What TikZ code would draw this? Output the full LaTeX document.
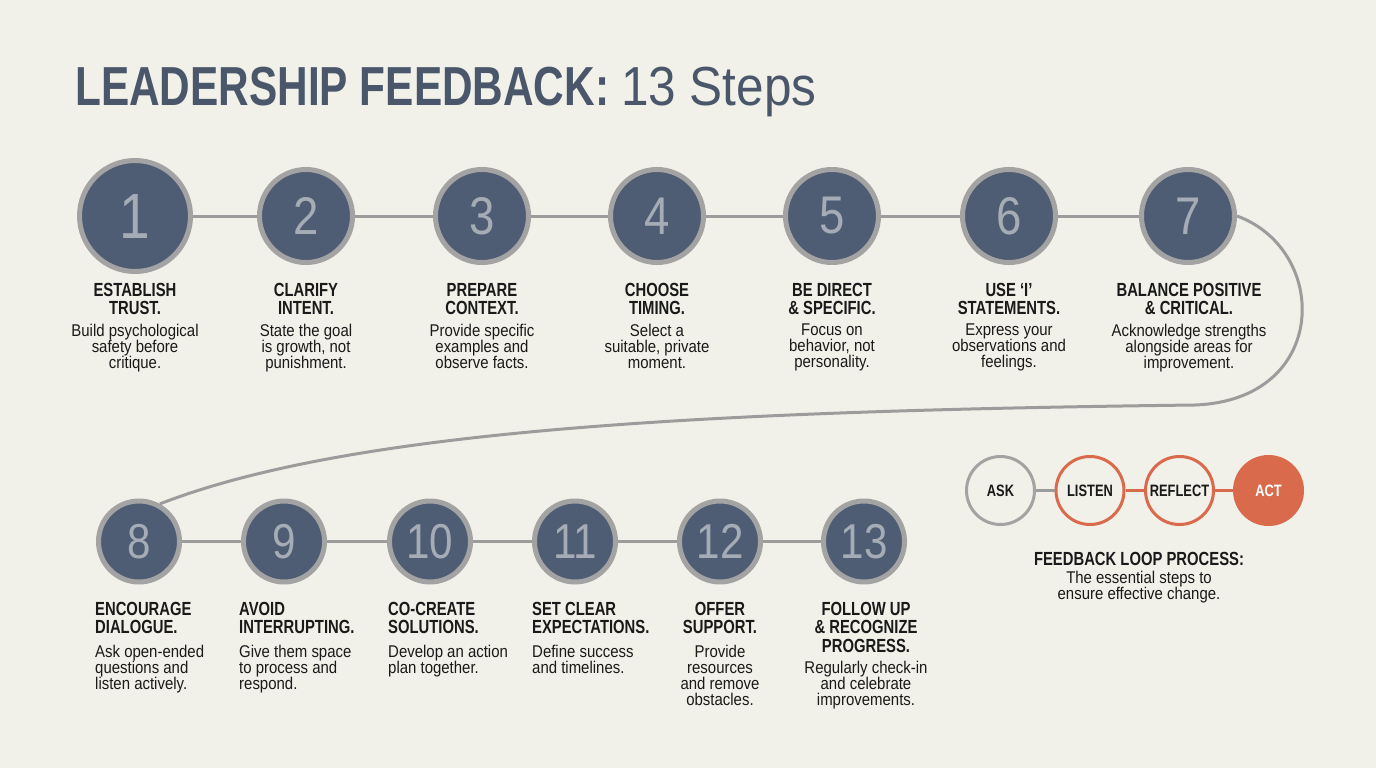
\documentclass[tikz,border=0pt]{standalone}
\usepackage{fontspec}
\setmainfont{Liberation Sans}[FakeStretch=0.88]
\newfontfamily\headfont{Liberation Sans}[FakeStretch=0.77]
\newfontfamily\labfont{Liberation Sans}[FakeStretch=0.78]
\newfontfamily\numfont{Liberation Sans}[FakeStretch=0.86]
\newfontfamily\stepsfont{Liberation Sans}[FakeStretch=0.9]

\definecolor{paper}{RGB}{241,240,233}
\definecolor{slate}{RGB}{78,93,116}
\definecolor{ringgray}{RGB}{163,163,163}
\definecolor{numgray}{RGB}{166,172,181}
\definecolor{linegray}{RGB}{156,156,156}
\definecolor{inkdark}{RGB}{26,26,26}
\definecolor{titleblue}{RGB}{74,87,107}
\definecolor{rust}{RGB}{217,106,76}

\tikzset{
  stepdot/.style={circle, draw=ringgray, line width=5pt, fill=slate,
    inner sep=0pt, text=numgray},
  steplabel/.style={inner sep=0pt, text=inkdark,
    font=\labfont\bfseries\fontsize{19}{18.5}\selectfont},
  stepdesc/.style={inner sep=0pt, text=inkdark,
    font=\fontsize{17}{16}\selectfont},
  link/.style={draw=linegray, line width=3pt},
  loopdot/.style={circle, line width=3pt, minimum size=68pt, inner sep=0pt,
    text=inkdark, font=\labfont\bfseries\fontsize{16.5}{16.5}\selectfont},
}

\begin{document}
\begin{tikzpicture}[x=1pt, y=-1pt]
  % page
  \fill[paper] (0,0) rectangle (1376,768);
  \useasboundingbox (0,0) rectangle (1376,768);

  % title
  \node[anchor=base west, inner sep=0pt, text=titleblue] (title) at (75,105)
    {\headfont\bfseries\fontsize{55}{55}\selectfont LEADERSHIP FEEDBACK: \stepsfont\mdseries 13 Steps};

  % top row of steps
  \foreach \n/\x/\d/\f in {1/135/111/64, 2/306/93/53, 3/482/93/53, 4/657/93/53,
                           5/832/93/53, 6/1009/93/53, 7/1188/93/53}
    \node[stepdot, minimum size=\d pt, font=\numfont\fontsize{\f}{\f}\selectfont] (s\n) at (\x,216) {\n};
  % bottom row of steps
  \foreach \n/\x in {8/139, 9/284, 10/430, 11/575, 12/720, 13/864}
    \node[stepdot, minimum size=81pt, font=\numfont\fontsize{49}{49}\selectfont] (s\n) at (\x,541.5) {\n};

  % straight links
  \foreach \a [count=\b from 2] in {1,...,6}
    \draw[link] (s\a) -- (s\b);
  \foreach \a [count=\b from 9] in {8,...,12}
    \draw[link] (s\a) -- (s\b);

  % the bend from 7 down to 8
  \coordinate (bend) at (1195,405);
  \draw[link] (s7.east) .. controls (1330,250) and (1330,400) .. (bend)
    .. controls (700,411) and (350,430) .. (s8.61);

  % top row texts
  \foreach \n/\x/\head/\desc in {
      1/135/{ESTABLISH\\TRUST.}/{Build psychological\\safety before\\critique.},
      2/306/{CLARIFY\\INTENT.}/{State the goal\\is growth, not\\punishment.},
      3/482/{PREPARE\\CONTEXT.}/{Provide specific\\examples and\\observe facts.},
      4/657/{CHOOSE\\TIMING.}/{Select a\\suitable, private\\moment.},
      5/832/{BE DIRECT\\\& SPECIFIC.}/{Focus on\\behavior, not\\personality.},
      6/1009/{USE ‘I’\\STATEMENTS.}/{Express your\\observations and\\feelings.},
      7/1189/{BALANCE POSITIVE\\\& CRITICAL.}/{Acknowledge strengths\\alongside areas for\\improvement.}} {
    \node[steplabel, align=center, anchor=north] (h\n) at (\x,283) {\head};
    \node[stepdesc, align=center, anchor=north] (d\n) at (\x,324) {\desc};
  }

  % bottom row texts
  \foreach \n/\x/\head/\desc in {
      8/95/{ENCOURAGE\\DIALOGUE.}/{Ask open-ended\\questions and\\listen actively.},
      9/239/{AVOID\\INTERRUPTING.}/{Give them space\\to process and\\respond.},
      10/388/{CO-CREATE\\SOLUTIONS.}/{Develop an action\\plan together.},
      11/532/{SET CLEAR\\EXPECTATIONS.}/{Define success\\and timelines.}} {
    \node[steplabel, align=left, anchor=north west] (h\n) at (\x,602) {\head};
    \node[stepdesc, align=left, anchor=north west] (d\n) at (\x,645) {\desc};
  }
  \node[steplabel, align=center, anchor=north] (h12) at (720,602) {OFFER\\SUPPORT.};
  \node[stepdesc, align=center, anchor=north] (d12) at (720,645)
    {Provide\\resources\\and remove\\obstacles.};
  \node[steplabel, align=center, anchor=north] (h13) at (866,602)
    {FOLLOW UP\\\& RECOGNIZE\\PROGRESS.};
  \node[stepdesc, align=center, anchor=north] (d13) at (866,661)
    {Regularly check-in\\and celebrate\\improvements.};

  % feedback loop
  \node[loopdot, draw=ringgray] (ask) at (1000.5,490.5) {ASK};
  \node[loopdot, draw=rust] (listen) at (1090,490.5) {LISTEN};
  \node[loopdot, draw=rust] (reflect) at (1179.5,490.5) {REFLECT};
  \node[loopdot, draw=rust, fill=rust, text=white] (act) at (1268.5,490.5) {ACT};
  \draw[link] (ask) -- (listen);
  \draw[link, draw=rust] (listen) -- (reflect);
  \draw[link, draw=rust] (reflect) -- (act);

  \node[steplabel, anchor=north] (looptitle) at (1139,552) {FEEDBACK LOOP PROCESS:};
  \node[stepdesc, align=center, anchor=north] (loopdesc) at (1139,571)
    {The essential steps to\\ensure effective change.};
\end{tikzpicture}
\end{document}
